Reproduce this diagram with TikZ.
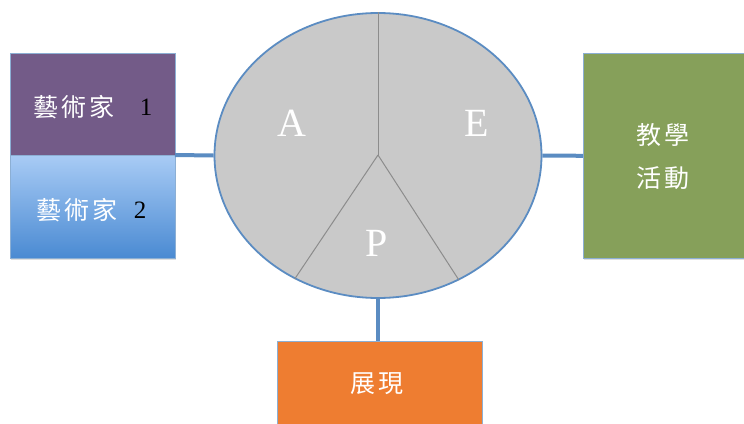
\documentclass[tikz,border=0pt]{standalone}
\usepackage{fontspec}
\setmainfont{Liberation Serif}
\newfontfamily\cjk[LetterSpace=12]{Noto Sans CJK TC}
\usetikzlibrary{shapes.geometric,shadows}
\definecolor{linkblue}{HTML}{5B8CC2}
\definecolor{purplebox}{HTML}{735B88}
\definecolor{bluetop}{HTML}{A8CBF5}
\definecolor{bluebot}{HTML}{4A8AD2}
\definecolor{greenbox}{HTML}{86A05A}
\definecolor{orangebox}{HTML}{EE7D31}
\definecolor{piegray}{HTML}{C9C9C9}
\definecolor{divgray}{HTML}{8C8C8C}
\tikzset{
  box/.style={draw=linkblue!70, line width=0.6pt, inner sep=0pt, anchor=north west,
    drop shadow={opacity=0.25, shadow xshift=1pt, shadow yshift=-2pt}},
  link/.style={draw=linkblue, line width=4pt},
  cjktxt/.style={text=white, font=\cjk\fontsize{25}{30}\selectfont, inner sep=0pt},
  numtxt/.style={text=black, font=\fontsize{25}{30}\selectfont, inner sep=0pt},
  lettertxt/.style={text=white, font=\fontsize{40}{46}\selectfont, inner sep=0pt},
  divider/.style={draw=divgray, line width=1pt}
}
\begin{document}
\begin{tikzpicture}[x=1pt,y=-1pt]
\useasboundingbox (0,0) rectangle (744,423);
% boxes
\node[box, fill=purplebox, minimum width=165pt, minimum height=102pt] (art1) at (10,53) {};
\node[box, top color=bluetop, bottom color=bluebot, minimum width=165pt, minimum height=103pt] (art2) at (10,155) {};
\node[box, fill=greenbox, minimum width=175pt, minimum height=205pt] (teach) at (583,53) {};
\node[box, fill=orangebox, minimum width=205pt, minimum height=95pt] (show) at (277,341) {};
% pie
\node[ellipse, draw=linkblue, line width=1.8pt, fill=piegray, minimum width=327pt, minimum height=285pt, inner sep=0pt] (pie) at (378,155.5) {};
\coordinate (hub) at (378,155);
\draw[divider] (hub) -- (pie.north);
\draw[divider] (hub) -- (pie.236.6);
\draw[divider] (hub) -- (pie.303.4);
% connectors
\coordinate (artj) at (175,155);
\draw[link] (artj) -- (pie.west);
\draw[link] (pie.east) -- (teach.west);
\draw[link] (pie.south) -- (pie.south |- show.north);
% labels
\node[cjktxt] (l1) at (74,107) {藝術家};
\node[numtxt] (n1) at (146,107) {1};
\node[cjktxt] (l2) at (77,210) {藝術家};
\node[numtxt] (n2) at (140,210) {2};
\node[cjktxt] (t1) at (663,135) {教學};
\node[cjktxt] (t2) at (663,178) {活動};
\node[cjktxt] (s1) at (377,384) {展現};
\node[lettertxt] (la) at (292,123) {A};
\node[lettertxt] (le) at (477,123) {E};
\node[lettertxt] (lp) at (377,243) {P};
\end{tikzpicture}
\end{document}
